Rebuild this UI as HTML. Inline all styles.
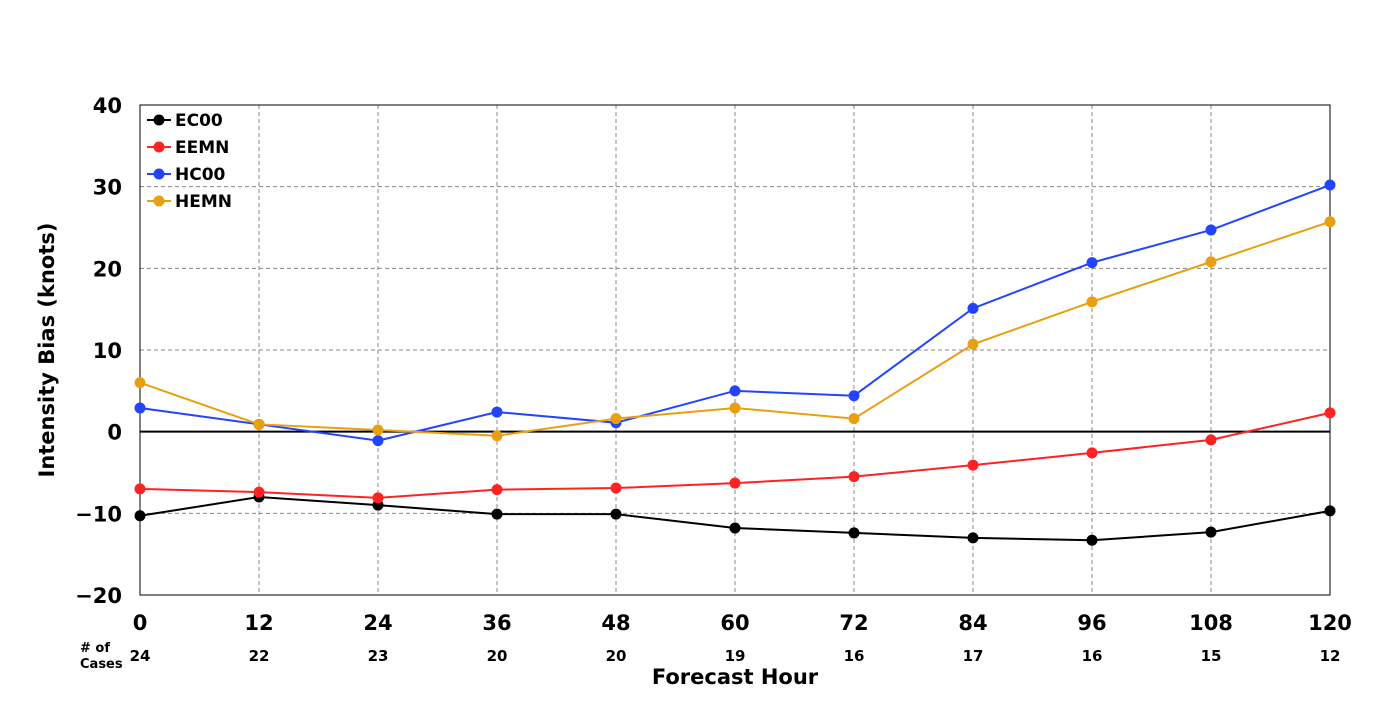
<!DOCTYPE html>
<html><head><meta charset="utf-8"><style>
html,body{margin:0;padding:0;background:#fff;}
svg text{font-family:"DejaVu Sans","Liberation Sans",sans-serif;font-weight:bold;}
</style></head><body>
<svg id="chart" width="1400" height="700" xmlns="http://www.w3.org/2000/svg"></svg>
<script>
const hours = [0,12,24,36,48,60,72,84,96,108,120];
const cases = [24,22,23,20,20,19,16,17,16,15,12];
const yTicks = [-20,-10,0,10,20,30,40];
const seriesNames = ["EC00","EEMN","HC00","HEMN"];
const seriesColors = ["#000000","#ff2222","#2244ff","#e8a010"];
const ec00 = [-10.3,-8.0,-9.0,-10.1,-10.1,-11.8,-12.4,-13.0,-13.3,-12.3,-9.7];
const eemn = [-7.0,-7.4,-8.1,-7.1,-6.9,-6.3,-5.5,-4.1,-2.6,-1.0,2.3];
const hc00 = [2.9,0.9,-1.1,2.4,1.1,5.0,4.4,15.1,20.7,24.7,30.2];
const hemn = [6.0,0.9,0.2,-0.5,1.6,2.9,1.6,10.7,15.9,20.8,25.7];
const allSeries = [ec00,eemn,hc00,hemn];

const svg = document.getElementById('chart');
const NS = 'http://www.w3.org/2000/svg';
const L=140,R=1330,T=105,B=595;
const xs = h => L + (h-0)/(120-0)*(R-L);
const ys = v => B - (v-(-20))/(40-(-20))*(B-T);
function mk(tag, attrs, parent){const e=document.createElementNS(NS,tag);for(const k in attrs)e.setAttribute(k,attrs[k]);(parent||svg).appendChild(e);return e;}

// grid
hours.forEach(h=>{
  const g=mk('line',{x1:xs(h),x2:xs(h),y1:T,y2:B,stroke:'#888','stroke-dasharray':'4,3','stroke-width':1});
  
  
});
yTicks.forEach(v=>{
  const g=mk('line',{x1:L,x2:R,y1:ys(v),y2:ys(v),stroke:v===0?'#000':'#888','stroke-dasharray':v===0?'none':'4,3','stroke-width':v===0?2:1});
  
  
});
const frame=mk('rect',{x:L,y:T,width:R-L,height:B-T,fill:'none',stroke:'#000','stroke-width':1});



// y ticks
yTicks.forEach(v=>{
  const t=mk('text',{x:L-18,y:ys(v)+8,'text-anchor':'end','font-size':21});
  t.textContent = v<0 ? '\u2212'+Math.abs(v) : String(v);
  
  
});
// x ticks + cases
hours.forEach((h,i)=>{
  const t=mk('text',{x:xs(h),y:630,'text-anchor':'middle','font-size':21});
  t.textContent=String(h);
  
  
  const c=mk('text',{x:xs(h),y:661,'text-anchor':'middle','font-size':15});
  c.textContent=String(cases[i]);
  
  
});
const c1=mk('text',{x:80,y:652,'font-size':13});c1.textContent='# of';


const c2=mk('text',{x:80,y:668,'font-size':13});c2.textContent='Cases';



const xt=mk('text',{x:735,y:684,'text-anchor':'middle','font-size':21});xt.textContent='Forecast Hour';


const yt=mk('text',{x:0,y:0,'text-anchor':'middle','font-size':21,transform:'translate(54,350) rotate(-90)'});yt.textContent='Intensity Bias (knots)';



// series
allSeries.forEach((s,si)=>{
  const pts=s.map((v,i)=>xs(hours[i])+','+ys(v)).join(' ');
  const pl=mk('polyline',{points:pts,fill:'none',stroke:seriesColors[si],'stroke-width':2});
  
  
  s.forEach((v,i)=>{
    const c=mk('circle',{cx:xs(hours[i]),cy:ys(v),r:5.5,fill:seriesColors[si]});
    
    
  });
});

// legend
seriesNames.forEach((n,i)=>{
  const y=120+i*27;
  const g=mk('g',{});
  
  
  mk('line',{x1:147,x2:171,y1:y,y2:y,stroke:seriesColors[i],'stroke-width':2},g);
  mk('circle',{cx:159,cy:y,r:5.5,fill:seriesColors[i]},g);
  const t=mk('text',{x:175,y:y+6,'font-size':17},g);t.textContent=n;
});
</script>
</body></html>
